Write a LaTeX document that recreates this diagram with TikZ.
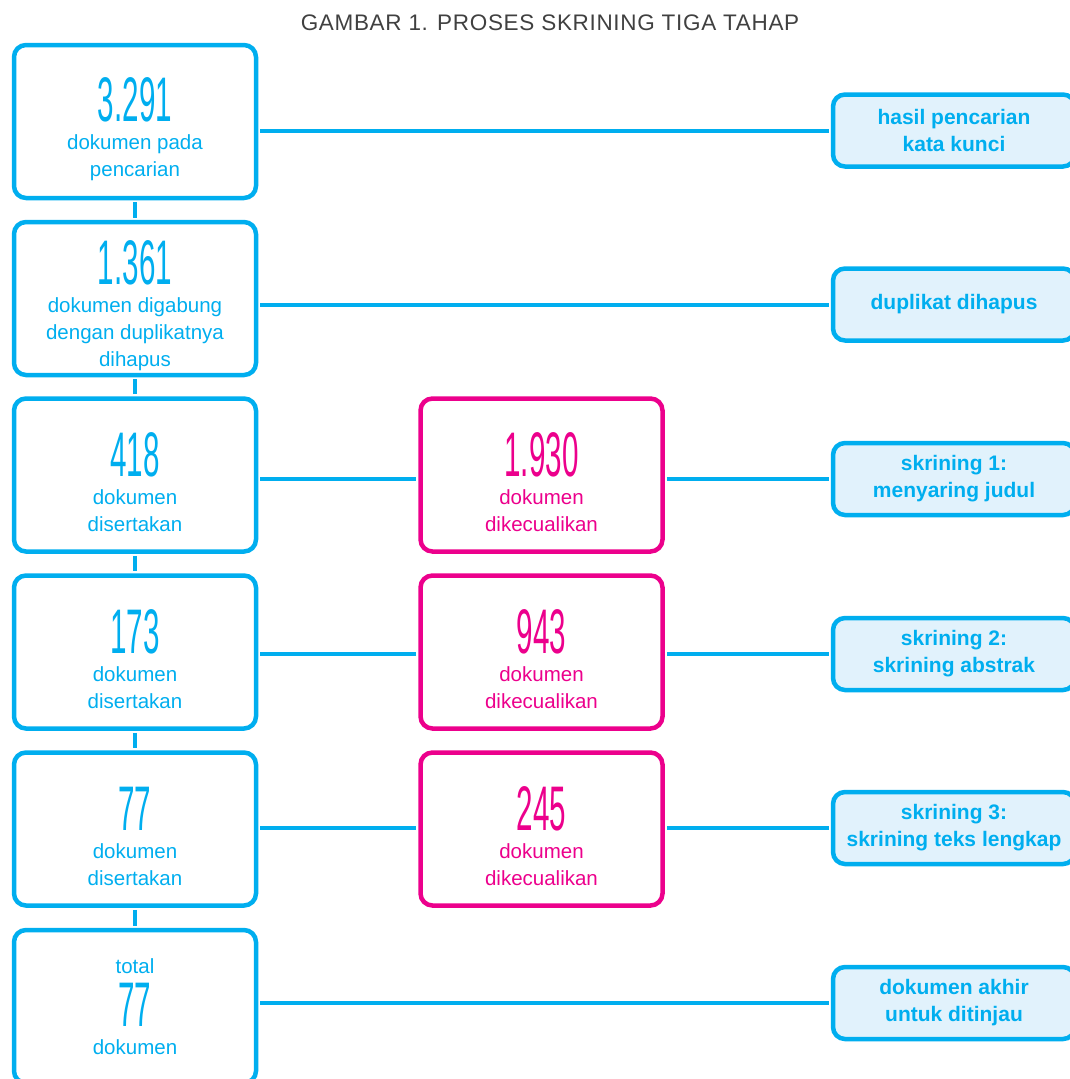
\documentclass[tikz,border=0pt]{standalone}
\usepackage{fontspec}
\setmainfont{Liberation Sans}
\newfontfamily\numfont[FakeStretch=0.47]{Liberation Sans}
\newfontfamily\titlefont[LetterSpace=3]{Liberation Sans}
\definecolor{skblue}{RGB}{0,174,239}
\definecolor{skpink}{RGB}{236,0,140}
\definecolor{skfill}{RGB}{225,242,252}
\definecolor{skgray}{RGB}{64,64,64}
\newcommand{\bignum}[1]{{\numfont\fontsize{63}{63}\selectfont #1}}
\newcommand{\toppad}{\rule{0pt}{59pt}}

\begin{document}
\begin{tikzpicture}[x=1pt, y=-1pt,
	box/.style={draw, line width=4.5pt, rounded corners=12pt, minimum width=242pt, minimum height=153pt, inner sep=0pt, align=center, font=\fontsize{20.5}{27}\selectfont},
	lbox/.style={box, skblue, text=skblue},
	mbox/.style={box, skpink, text=skpink},
	rbox/.style={draw=skblue, fill=skfill, line width=4.5pt, rounded corners=12pt, minimum width=242pt, minimum height=72pt, inner sep=0pt, align=center, text=skblue, font=\fontsize{21}{27}\selectfont\bfseries},
	link/.style={skblue, line width=4pt, shorten <=2pt, shorten >=2pt}]
	\useasboundingbox (0,0) rectangle (1069,1079);
	\node[text=skgray, font=\titlefont\fontsize{22.5}{26}\selectfont] (ttl) at (550,23) {GAMBAR 1. PROSES SKRINING TIGA TAHAP};
	\foreach \i/\y/\n/\txt in {1/121.5/3.291/{dokumen pada\\pencarian}, 2/298.5/1.361/{dokumen digabung\\dengan duplikatnya\\dihapus}, 3/475/418/{dokumen\\disertakan}, 4/652/173/{dokumen\\disertakan}, 5/829/77/{dokumen\\disertakan}} {
		\node[lbox] (b\i) at (135,\y) {\toppad\bignum{\n}\\[1pt]\txt};
	}
	\node[lbox] (b6) at (135,1006.5) {total\\[8pt]\bignum{77}\\[1pt]dokumen};
	\foreach \i/\y/\n in {3/475/1.930, 4/652/943, 5/829/245} {
		\node[mbox] (m\i) at (541.5,\y) {\toppad\bignum{\n}\\[1pt]dokumen\\dikecualikan};
	}
	\foreach \i/\y/\txt in {1/130.5/{hasil pencarian\\kata kunci}, 2/304.5/{duplikat dihapus}, 3/479/{skrining 1:\\menyaring judul}, 4/654/{skrining 2:\\skrining abstrak}, 5/828/{skrining 3:\\skrining teks lengkap}, 6/1003/{dokumen akhir\\untuk ditinjau}} {
		\node[rbox] (r\i) at (954,\y) {\txt};
	}
	\foreach \i/\j in {1/2, 2/3, 3/4, 4/5, 5/6} {
		\draw[link] (b\i) -- (b\j);
	}
	\foreach \i in {1,2,6} {
		\draw[link] (b\i.east |- r\i) -- (r\i.west);
	}
	\foreach \i in {3,4,5} {
		\draw[link] (b\i.east |- r\i) -- (m\i.west |- r\i);
		\draw[link] (m\i.east |- r\i) -- (r\i.west);
	}
\end{tikzpicture}
\end{document}
